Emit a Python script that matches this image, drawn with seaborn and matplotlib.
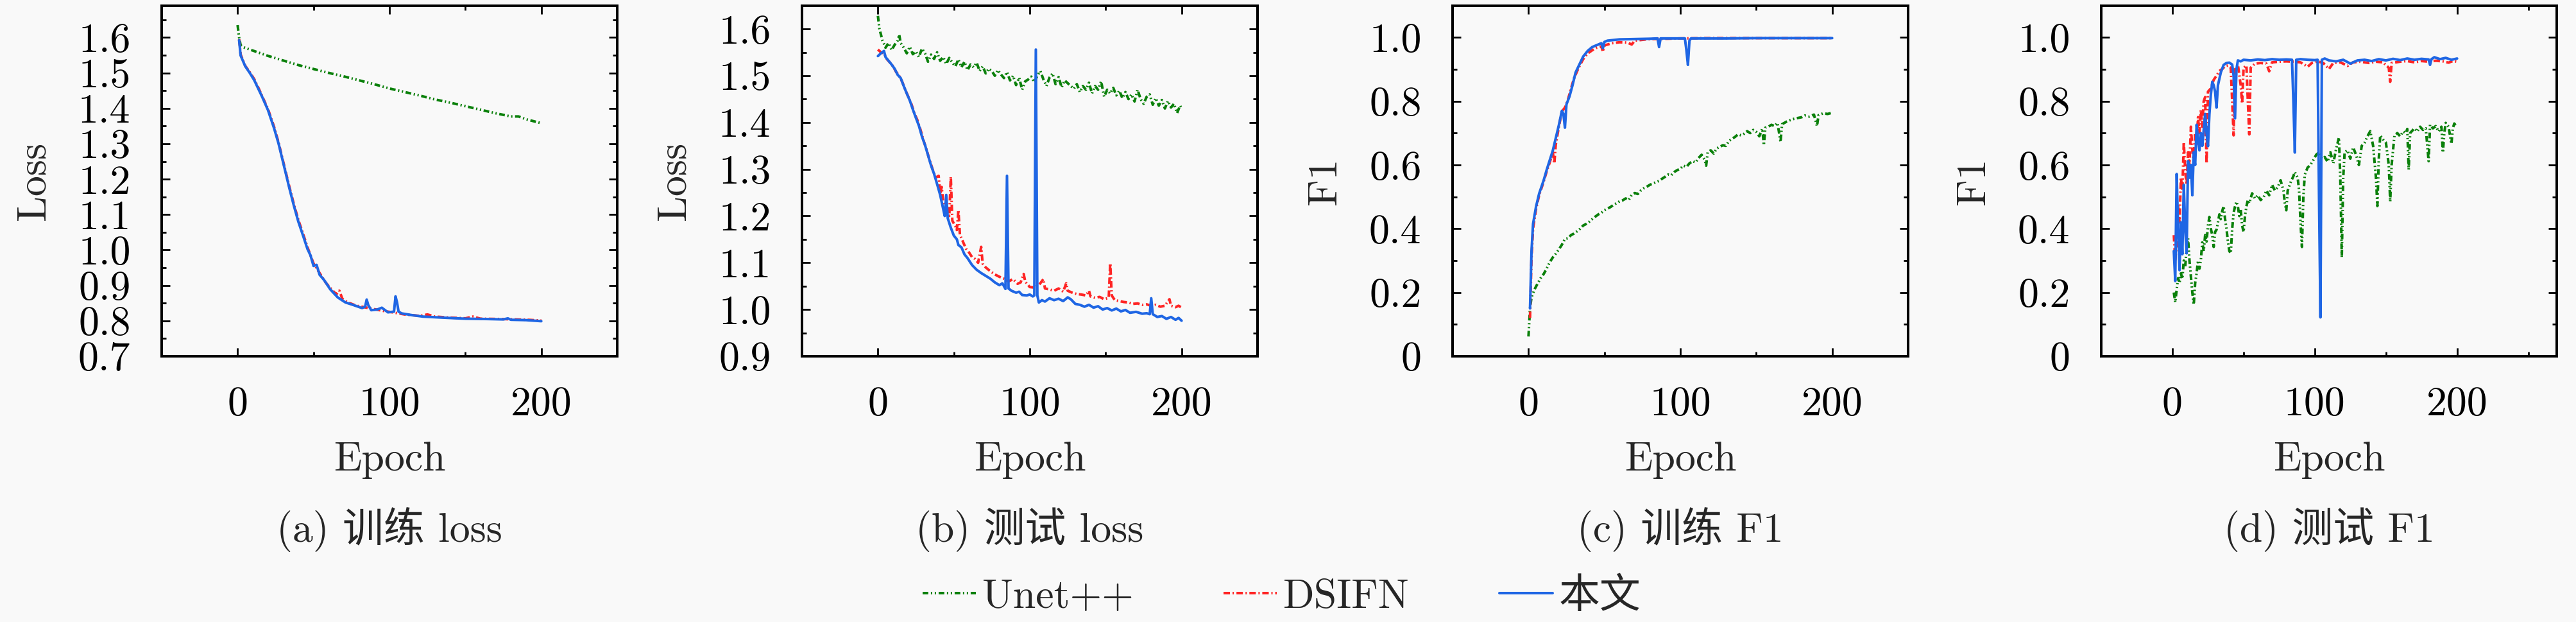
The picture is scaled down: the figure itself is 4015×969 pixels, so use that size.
import pandas as pd
import matplotlib.pyplot as plt
import seaborn as sns

# ---------------- DATA ----------------
MODELS = ["Unet++", "DSIFN", "本文"]
COLORS = {"Unet++": "#0a800a", "DSIFN": "#ff2424", "本文": "#1f66e4"}
DASHES = {"Unet++": (2.2, 1.0, 0.5, 1.0, 0.5, 1.0), "DSIFN": (2.5, 1.0, 0.5, 1.0), "本文": ""}

CAPTIONS = ["(a) 训练 loss", "(b) 测试 loss", "(c) 训练 F1", "(d) 测试 F1"]
YLABELS = ["Loss", "Loss", "F1", "F1"]
X_TICKS = [0, 100, 200]
A_Y_TICKS = [0.7, 0.8, 0.9, 1.0, 1.1, 1.2, 1.3, 1.4, 1.5, 1.6]
B_Y_TICKS = [0.9, 1.0, 1.1, 1.2, 1.3, 1.4, 1.5, 1.6]
F1_Y_TICKS = [0, 0.2, 0.4, 0.6, 0.8, 1.0]
F1_Y_LABELS = ["0", "0.2", "0.4", "0.6", "0.8", "1.0"]

# (a) train loss: (epoch, value)
A_UNET = [(0, 1.635), (1, 1.600), (2, 1.578), (4, 1.572), (10, 1.563), (20, 1.548), (30, 1.535),
          (40, 1.522), (50, 1.511), (60, 1.500), (70, 1.490), (80, 1.479), (90, 1.468), (100, 1.456),
          (110, 1.446), (120, 1.436), (130, 1.425), (140, 1.416), (150, 1.406), (160, 1.396),
          (170, 1.386), (180, 1.377), (185, 1.377), (190, 1.369), (200, 1.358)]
A_DSIFN = [(1, 1.595), (2, 1.552), (5, 1.520), (8, 1.502), (11, 1.482), (14, 1.455), (16, 1.436),
           (20, 1.398), (24, 1.348), (27, 1.303), (30, 1.250), (34, 1.180), (37, 1.130), (40, 1.085),
           (43, 1.047), (46, 1.008), (50, 0.962), (54, 0.935), (58, 0.908), (62, 0.888), (65, 0.875),
           (67, 0.885), (69, 0.862), (72, 0.853), (78, 0.843), (84, 0.838), (90, 0.833), (96, 0.828),
           (102, 0.824), (110, 0.818), (120, 0.814), (125, 0.818), (130, 0.812), (140, 0.809),
           (150, 0.807), (155, 0.812), (160, 0.806), (175, 0.805), (190, 0.803), (200, 0.801)]
A_OURS = [(1, 1.592), (2, 1.549), (5, 1.519), (8, 1.500), (11, 1.479), (14, 1.452), (16, 1.434),
          (20, 1.395), (24, 1.344), (27, 1.300), (30, 1.247), (34, 1.176), (37, 1.126), (40, 1.080),
          (43, 1.042), (46, 1.003), (48, 0.985), (50, 0.955), (52, 0.958), (54, 0.930), (57, 0.915),
          (61, 0.889), (66, 0.866), (71, 0.852), (76, 0.845), (82, 0.836), (84, 0.840), (85, 0.860),
          (86, 0.845), (88, 0.830), (92, 0.832), (95, 0.837), (99, 0.824), (103, 0.826), (104, 0.869),
          (105, 0.852), (106, 0.826), (108, 0.821), (115, 0.816), (122, 0.812), (135, 0.809),
          (150, 0.806), (165, 0.805), (175, 0.804), (178, 0.807), (180, 0.803), (190, 0.802),
          (200, 0.799)]

# (b) test loss
B_UNET = [(0, 1.628), (1, 1.600), (2, 1.588), (3, 1.575), (4, 1.568), (5, 1.560), (7, 1.570),
          (9, 1.555), (11, 1.566), (13, 1.575), (14, 1.588), (15, 1.570), (17, 1.560), (19, 1.548),
          (21, 1.562), (23, 1.546), (25, 1.552), (27, 1.540), (29, 1.558), (31, 1.548), (33, 1.530),
          (35, 1.545), (37, 1.536), (39, 1.550), (41, 1.532), (43, 1.540), (45, 1.525), (47, 1.538),
          (49, 1.528), (51, 1.520), (53, 1.535), (55, 1.518), (57, 1.530), (59, 1.512), (61, 1.524),
          (63, 1.518), (65, 1.528), (67, 1.510), (69, 1.520), (71, 1.505), (73, 1.515), (75, 1.510),
          (77, 1.500), (79, 1.512), (81, 1.503), (83, 1.495), (85, 1.508), (87, 1.490), (89, 1.500),
          (91, 1.480), (93, 1.496), (95, 1.470), (97, 1.488), (99, 1.492), (101, 1.498), (103, 1.486),
          (105, 1.500), (107, 1.510), (109, 1.492), (111, 1.478), (113, 1.496), (115, 1.505),
          (117, 1.482), (119, 1.497), (121, 1.475), (123, 1.490), (125, 1.484), (127, 1.478),
          (129, 1.472), (131, 1.482), (133, 1.465), (135, 1.478), (137, 1.470), (139, 1.485),
          (141, 1.462), (143, 1.478), (145, 1.470), (147, 1.488), (149, 1.455), (151, 1.470),
          (153, 1.462), (155, 1.474), (157, 1.458), (159, 1.468), (161, 1.452), (163, 1.465),
          (165, 1.450), (167, 1.460), (169, 1.445), (171, 1.470), (173, 1.450), (175, 1.440),
          (177, 1.455), (179, 1.460), (181, 1.438), (183, 1.452), (185, 1.436), (187, 1.448),
          (189, 1.430), (191, 1.446), (193, 1.432), (195, 1.440), (197, 1.420), (199, 1.436),
          (200, 1.430)]
B_DSIFN = [(0, 1.556), (2, 1.550), (4, 1.548), (6, 1.535), (8, 1.528), (10, 1.520), (12, 1.508),
           (14, 1.500), (16, 1.487), (18, 1.470), (20, 1.455), (22, 1.440), (24, 1.420), (26, 1.405),
           (28, 1.385), (30, 1.362), (32, 1.342), (34, 1.320), (36, 1.300), (38, 1.282), (40, 1.286),
           (41, 1.245), (42, 1.262), (43, 1.230), (45, 1.215), (47, 1.200), (48, 1.284), (49, 1.190),
           (51, 1.178), (52, 1.170), (53, 1.213), (54, 1.160), (56, 1.145), (58, 1.130), (60, 1.122),
           (62, 1.112), (64, 1.108), (66, 1.100), (68, 1.134), (69, 1.098), (71, 1.090), (74, 1.082),
           (77, 1.075), (80, 1.070), (83, 1.066), (86, 1.060), (89, 1.065), (92, 1.055), (94, 1.058),
           (96, 1.076), (97, 1.060), (100, 1.048), (103, 1.047), (106, 1.052), (109, 1.065),
           (110, 1.045), (113, 1.043), (116, 1.040), (119, 1.045), (122, 1.038), (124, 1.056),
           (125, 1.040), (128, 1.036), (131, 1.033), (134, 1.032), (137, 1.030), (139, 1.040),
           (140, 1.028), (143, 1.025), (146, 1.027), (149, 1.022), (152, 1.025), (153, 1.099),
           (154, 1.030), (156, 1.020), (159, 1.018), (162, 1.016), (165, 1.015), (168, 1.012),
           (171, 1.013), (174, 1.010), (177, 1.011), (180, 1.008), (183, 1.010), (186, 1.006),
           (189, 1.008), (192, 1.022), (193, 1.008), (196, 1.005), (198, 1.008), (200, 1.004)]
B_OURS = [(0, 1.542), (2, 1.548), (4, 1.553), (5, 1.540), (7, 1.532), (9, 1.524), (11, 1.515),
          (13, 1.502), (15, 1.495), (17, 1.478), (19, 1.462), (21, 1.447), (23, 1.428), (25, 1.410),
          (27, 1.393), (29, 1.370), (31, 1.352), (33, 1.330), (35, 1.308), (37, 1.290), (39, 1.268),
          (41, 1.245), (43, 1.215), (44, 1.200), (45, 1.245), (46, 1.195), (48, 1.175), (50, 1.158),
          (52, 1.150), (53, 1.138), (55, 1.133), (57, 1.118), (59, 1.110), (62, 1.095), (65, 1.085),
          (68, 1.078), (71, 1.072), (74, 1.066), (77, 1.058), (80, 1.052), (82, 1.056), (84, 1.044),
          (85, 1.286), (86, 1.045), (88, 1.040), (91, 1.036), (93, 1.038), (95, 1.031), (98, 1.030),
          (100, 1.032), (102, 1.028), (103, 1.030), (104, 1.556), (105, 1.030), (106, 1.015),
          (108, 1.020), (110, 1.017), (113, 1.024), (116, 1.020), (119, 1.023), (122, 1.018),
          (125, 1.026), (127, 1.022), (130, 1.012), (133, 1.010), (136, 1.006), (139, 1.010),
          (142, 1.004), (145, 1.007), (148, 1.000), (151, 1.003), (154, 0.998), (157, 1.002),
          (160, 0.996), (163, 0.999), (166, 0.993), (170, 0.995), (174, 0.991), (177, 0.992),
          (179, 0.990), (180, 1.024), (181, 0.990), (184, 0.984), (187, 0.986), (190, 0.980),
          (193, 0.984), (196, 0.978), (198, 0.982), (200, 0.976)]

# (c) train F1
C_UNET = [(0, 0.062), (1, 0.150), (2, 0.185), (4, 0.210), (6, 0.228), (8, 0.245), (10, 0.258),
          (12, 0.275), (14, 0.295), (16, 0.310), (18, 0.322), (20, 0.335), (22, 0.350), (24, 0.368),
          (26, 0.370), (28, 0.380), (30, 0.385), (32, 0.392), (34, 0.400), (36, 0.410), (38, 0.415),
          (40, 0.422), (42, 0.430), (44, 0.438), (46, 0.445), (48, 0.450), (50, 0.458), (52, 0.463),
          (54, 0.468), (56, 0.475), (58, 0.480), (60, 0.486), (62, 0.489), (64, 0.495), (66, 0.490),
          (68, 0.506), (70, 0.512), (72, 0.509), (74, 0.520), (76, 0.527), (78, 0.532), (80, 0.538),
          (82, 0.542), (84, 0.546), (86, 0.550), (88, 0.557), (90, 0.563), (92, 0.570), (94, 0.568),
          (96, 0.578), (98, 0.584), (100, 0.588), (102, 0.598), (104, 0.594), (106, 0.605),
          (108, 0.612), (110, 0.608), (112, 0.622), (114, 0.632), (116, 0.616), (117, 0.598),
          (118, 0.640), (120, 0.646), (122, 0.636), (124, 0.652), (126, 0.657), (128, 0.662),
          (130, 0.660), (132, 0.675), (134, 0.682), (136, 0.688), (138, 0.696), (140, 0.693),
          (142, 0.698), (144, 0.706), (146, 0.700), (148, 0.710), (150, 0.704), (152, 0.690),
          (154, 0.714), (155, 0.662), (156, 0.717), (158, 0.720), (160, 0.726), (162, 0.722),
          (164, 0.732), (166, 0.672), (167, 0.728), (170, 0.736), (172, 0.740), (175, 0.745),
          (178, 0.748), (180, 0.750), (182, 0.755), (185, 0.752), (188, 0.758), (190, 0.722),
          (191, 0.756), (194, 0.762), (197, 0.760), (200, 0.764)]
C_DSIFN = [(1, 0.120), (2, 0.310), (3, 0.400), (5, 0.462), (7, 0.505), (10, 0.548), (12, 0.580),
           (14, 0.608), (16, 0.640), (17, 0.605), (18, 0.665), (20, 0.720), (22, 0.768), (24, 0.780),
           (26, 0.805), (28, 0.840), (30, 0.872), (33, 0.905), (36, 0.932), (39, 0.950), (42, 0.960),
           (45, 0.968), (48, 0.972), (49, 0.955), (50, 0.975), (55, 0.982), (60, 0.985), (65, 0.984),
           (68, 0.978), (70, 0.990), (80, 0.995), (90, 0.996), (100, 0.997), (120, 0.998),
           (150, 0.998), (200, 0.998)]
C_OURS = [(1, 0.150), (2, 0.330), (3, 0.415), (5, 0.470), (7, 0.510), (10, 0.552), (12, 0.585),
          (14, 0.615), (16, 0.645), (18, 0.685), (20, 0.725), (22, 0.770), (23, 0.760), (24, 0.717),
          (25, 0.790), (27, 0.815), (29, 0.850), (31, 0.890), (33, 0.910), (36, 0.940), (39, 0.958),
          (42, 0.970), (45, 0.976), (48, 0.982), (49, 0.966), (50, 0.986), (52, 0.990), (56, 0.992),
          (60, 0.994), (70, 0.995), (80, 0.996), (85, 0.997), (86, 0.970), (87, 0.997), (95, 0.997),
          (103, 0.997), (104, 0.960), (105, 0.914), (106, 0.990), (107, 0.997), (130, 0.997),
          (150, 0.998), (180, 0.998), (200, 0.998)]

# (d) test F1
D_UNET = [(1, 0.200), (2, 0.169), (3, 0.209), (4, 0.245), (5, 0.230), (6, 0.260), (7, 0.243),
          (8, 0.300), (9, 0.280), (10, 0.340), (11, 0.370), (12, 0.300), (13, 0.250), (14, 0.200),
          (15, 0.162), (16, 0.230), (17, 0.260), (18, 0.300), (19, 0.275), (20, 0.303), (21, 0.357),
          (22, 0.330), (23, 0.380), (24, 0.360), (25, 0.410), (26, 0.437), (27, 0.400), (28, 0.380),
          (29, 0.343), (30, 0.390), (31, 0.397), (32, 0.420), (33, 0.445), (34, 0.430), (35, 0.455),
          (36, 0.471), (37, 0.430), (38, 0.400), (39, 0.360), (40, 0.330), (41, 0.323), (42, 0.400),
          (43, 0.450), (44, 0.470), (45, 0.485), (46, 0.470), (47, 0.440), (48, 0.460), (49, 0.410),
          (50, 0.390), (51, 0.440), (52, 0.470), (53, 0.490), (54, 0.480), (56, 0.511), (58, 0.495),
          (60, 0.505), (62, 0.490), (64, 0.498), (66, 0.520), (68, 0.505), (70, 0.538), (72, 0.520),
          (74, 0.530), (76, 0.552), (78, 0.520), (79, 0.480), (80, 0.458), (81, 0.520), (83, 0.545),
          (85, 0.565), (86, 0.578), (88, 0.560), (89, 0.520), (90, 0.420), (91, 0.343), (92, 0.500),
          (93, 0.570), (95, 0.592), (97, 0.600), (99, 0.615), (101, 0.632), (103, 0.640),
          (105, 0.620), (107, 0.625), (109, 0.610), (111, 0.640), (113, 0.605), (115, 0.650),
          (117, 0.686), (118, 0.550), (119, 0.310), (120, 0.560), (121, 0.640), (123, 0.646),
          (125, 0.620), (127, 0.655), (129, 0.632), (131, 0.600), (133, 0.660), (135, 0.670),
          (137, 0.690), (139, 0.706), (141, 0.660), (143, 0.560), (144, 0.471), (145, 0.620),
          (146, 0.693), (148, 0.680), (150, 0.670), (152, 0.600), (153, 0.485), (154, 0.600),
          (156, 0.693), (158, 0.700), (160, 0.690), (162, 0.705), (164, 0.700), (165, 0.713),
          (166, 0.585), (167, 0.700), (170, 0.715), (172, 0.705), (174, 0.720), (176, 0.710),
          (178, 0.715), (180, 0.612), (181, 0.726), (183, 0.715), (185, 0.722), (187, 0.705),
          (189, 0.720), (190, 0.639), (191, 0.700), (192, 0.732), (194, 0.720), (196, 0.666),
          (197, 0.715), (198, 0.730), (200, 0.719)]
D_DSIFN = [(1, 0.380), (2, 0.300), (3, 0.360), (4, 0.470), (5, 0.420), (6, 0.560), (7, 0.520),
           (8, 0.672), (9, 0.580), (10, 0.538), (11, 0.640), (12, 0.600), (13, 0.720), (14, 0.650),
           (15, 0.605), (16, 0.700), (17, 0.660), (18, 0.750), (19, 0.700), (20, 0.773), (21, 0.720),
           (22, 0.800), (23, 0.813), (24, 0.605), (25, 0.830), (27, 0.840), (29, 0.867), (31, 0.880),
           (33, 0.895), (35, 0.901), (37, 0.910), (39, 0.912), (41, 0.905), (42, 0.800), (43, 0.693),
           (44, 0.900), (46, 0.915), (48, 0.850), (49, 0.793), (50, 0.905), (52, 0.912), (53, 0.800),
           (54, 0.696), (55, 0.905), (58, 0.918), (62, 0.920), (66, 0.918), (68, 0.894), (70, 0.922),
           (75, 0.924), (80, 0.925), (85, 0.924), (90, 0.922), (95, 0.908), (98, 0.920), (102, 0.925),
           (106, 0.920), (110, 0.901), (113, 0.920), (118, 0.922), (123, 0.911), (127, 0.922),
           (132, 0.924), (138, 0.920), (143, 0.924), (148, 0.922), (152, 0.905), (153, 0.861),
           (154, 0.920), (160, 0.924), (165, 0.926), (170, 0.922), (175, 0.926), (180, 0.924),
           (185, 0.927), (190, 0.925), (194, 0.921), (197, 0.926), (200, 0.924)]
D_OURS = [(1, 0.330), (2, 0.236), (3, 0.572), (4, 0.400), (5, 0.270), (6, 0.420), (7, 0.320),
          (8, 0.538), (9, 0.400), (10, 0.323), (11, 0.612), (12, 0.560), (13, 0.600), (14, 0.505),
          (15, 0.640), (16, 0.600), (17, 0.726), (18, 0.680), (19, 0.646), (20, 0.700), (21, 0.660),
          (23, 0.760), (24, 0.700), (25, 0.659), (26, 0.760), (27, 0.820), (28, 0.861), (29, 0.850),
          (30, 0.830), (31, 0.780), (32, 0.850), (34, 0.890), (36, 0.914), (38, 0.920), (40, 0.921),
          (42, 0.915), (43, 0.880), (44, 0.746), (45, 0.900), (46, 0.928), (48, 0.925), (50, 0.930),
          (55, 0.928), (60, 0.931), (65, 0.929), (70, 0.932), (75, 0.930), (80, 0.931), (84, 0.930),
          (85, 0.800), (86, 0.639), (87, 0.930), (90, 0.932), (95, 0.930), (100, 0.929), (102, 0.930),
          (103, 0.500), (104, 0.122), (105, 0.930), (107, 0.934), (110, 0.928), (115, 0.925),
          (120, 0.930), (125, 0.918), (130, 0.928), (135, 0.930), (140, 0.926), (145, 0.932),
          (150, 0.928), (155, 0.933), (160, 0.929), (165, 0.934), (170, 0.930), (175, 0.933),
          (180, 0.931), (181, 0.914), (182, 0.932), (184, 0.938), (188, 0.932), (192, 0.936),
          (196, 0.930), (200, 0.934)]

# ---------------- STYLE ----------------
sns.set_theme(style="ticks")
BG = "#f9f9f9"
FS = 46
LW = 2.9
plt.rcParams.update({
    "font.family": ["cmr10", "Noto Sans CJK SC", "DejaVu Sans"],
    "axes.formatter.use_mathtext": True,
    "mathtext.fontset": "cm",
    "font.size": FS,
    "axes.linewidth": 2.9,
    "figure.facecolor": BG,
    "axes.facecolor": BG,
})


def frame(series):
    parts = []
    for name, pairs in zip(MODELS, series):
        d = pd.DataFrame(pairs, columns=["epoch", "value"])
        d["model"] = name
        parts.append(d)
    return pd.concat(parts, ignore_index=True)


panels = [
    dict(df=frame([A_UNET, A_DSIFN, A_OURS]), ylim=(0.7, 1.69), xlim=(-50, 250),
         yticks=A_Y_TICKS, ylabels=[f"{v:.1f}" for v in A_Y_TICKS], yminor=0.05),
    dict(df=frame([B_UNET, B_DSIFN, B_OURS]), ylim=(0.9, 1.65), xlim=(-50, 250),
         yticks=B_Y_TICKS, ylabels=[f"{v:.1f}" for v in B_Y_TICKS], yminor=0.05),
    dict(df=frame([C_UNET, C_DSIFN, C_OURS]), ylim=(0, 1.1), xlim=(-50, 250),
         yticks=F1_Y_TICKS, ylabels=F1_Y_LABELS, yminor=0.1),
    dict(df=frame([D_UNET, D_DSIFN, D_OURS]), ylim=(0, 1.1), xlim=(-50, 270),
         yticks=F1_Y_TICKS, ylabels=F1_Y_LABELS, yminor=0.1),
]

W, H = 4016, 969
fig = plt.figure(figsize=(W / 100, H / 100), dpi=100)
LEFTS = [252, 1250, 2264, 3275]
AX_W, AX_TOP, AX_BOTTOM = 710, 8.7, 555

axes = []
for i, p in enumerate(panels):
    ax = fig.add_axes([LEFTS[i] / W, 1 - AX_BOTTOM / H, AX_W / W, (AX_BOTTOM - AX_TOP) / H])
    sns.lineplot(data=p["df"], x="epoch", y="value", hue="model", style="model",
                 hue_order=MODELS, style_order=MODELS, palette=COLORS, dashes=DASHES,
                 estimator=None, linewidth=LW, legend=False, ax=ax)
    ax.set_xlim(*p["xlim"])
    ax.set_ylim(*p["ylim"])
    ax.set_xticks(X_TICKS, labels=[str(t) for t in X_TICKS])
    ax.set_xticks([50, 150, 250], minor=True)
    ax.set_yticks(p["yticks"], labels=p["ylabels"])
    lo, hi = p["ylim"]
    step = p["yminor"]
    minors = [round(p["yticks"][0] + step * (2 * k + 1), 3) for k in range(len(p["yticks"]))]
    ax.set_yticks([m for m in minors if lo < m < hi], minor=True)
    ax.tick_params(which="both", direction="in", top=True, right=True, width=2.0, colors="black")
    ax.tick_params(which="major", length=9.5)
    ax.tick_params(which="minor", length=5)
    ax.tick_params(axis="x", which="both", pad=34, labelsize=FS)
    ax.tick_params(axis="y", which="both", pad=35, labelsize=FS)
    for s in ax.spines.values():
        s.set_color("black")
        s.set_linewidth(2.9)
    ax.set_xlabel("Epoch", fontsize=FS, labelpad=20)
    ax.set_ylabel(YLABELS[i], fontsize=FS, labelpad=28)
    cx = (LEFTS[i] + AX_W / 2) / W
    fig.text(cx, 1 - 825 / H, CAPTIONS[i], ha="center", va="center", fontsize=FS)
    axes.append(ax)

handles = axes[0].get_lines()[:3]
fig.legend(handles, MODELS, loc="center", bbox_to_anchor=(0.4975, 1 - 930 / H), ncol=3,
           frameon=False, fontsize=FS, handlelength=1.3, handletextpad=0.15,
           columnspacing=2.2, borderaxespad=0)

fig.savefig("out.png", dpi=100, facecolor=BG)
